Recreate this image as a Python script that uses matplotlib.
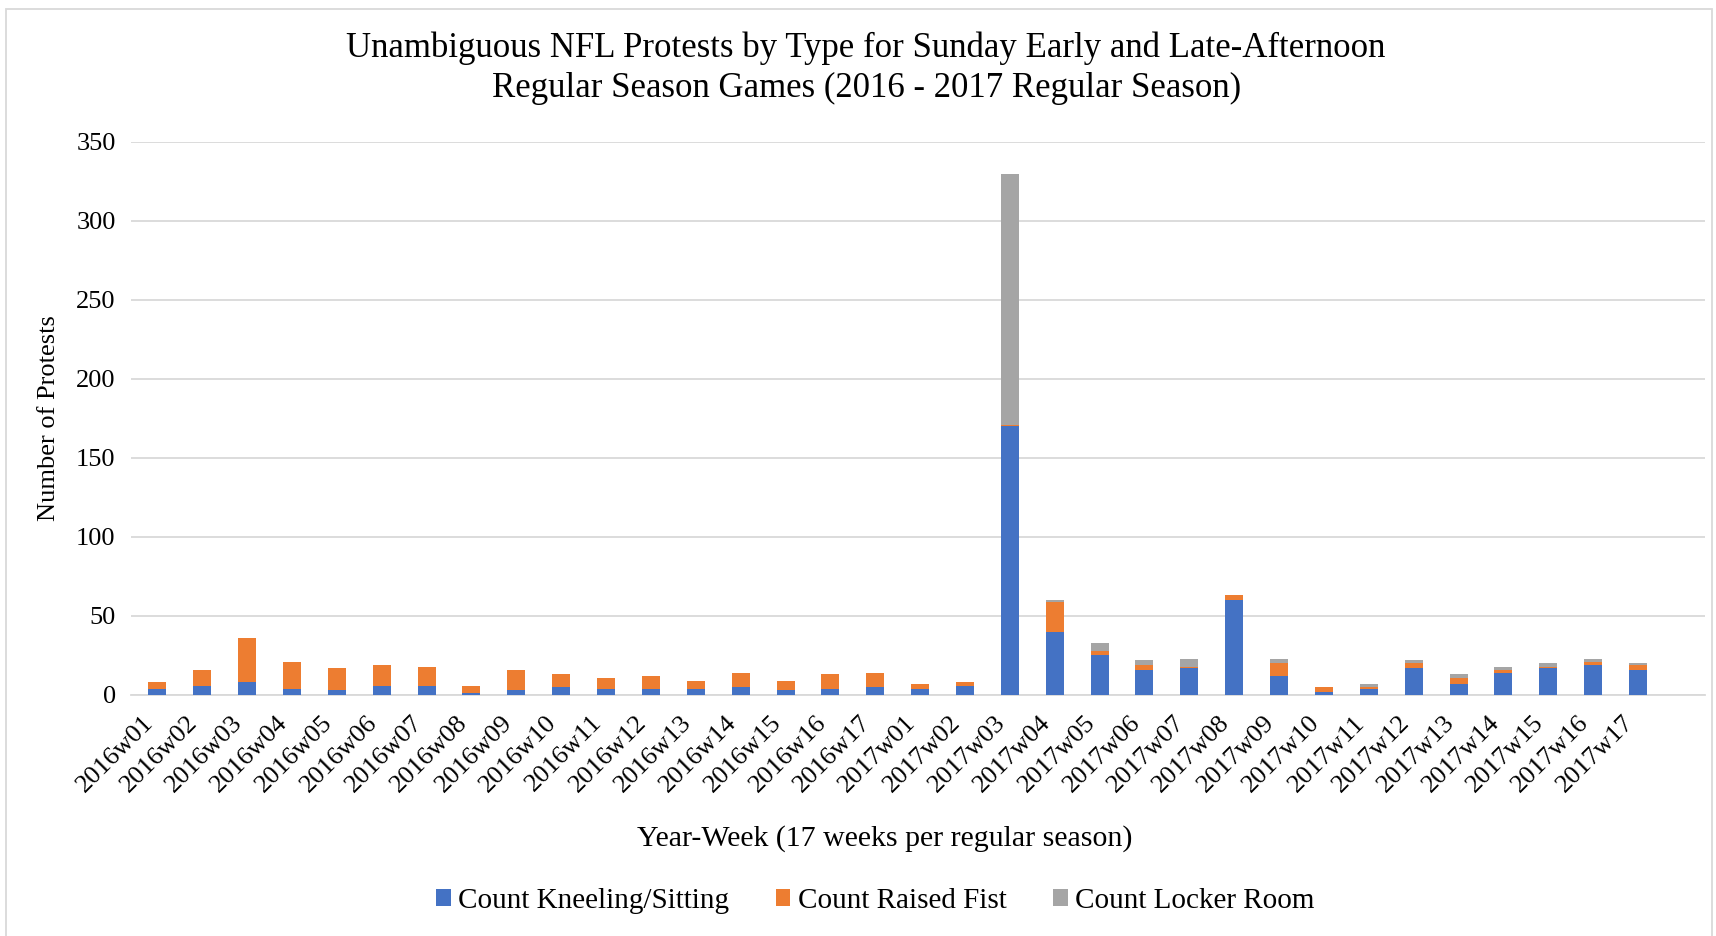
import matplotlib.pyplot as plt
import matplotlib.patches as mpatches
import numpy as np

# Data
weeks = [f"2016w{i:02d}" for i in range(1, 18)] + [f"2017w{i:02d}" for i in range(1, 18)]

kneeling = [4, 6, 8, 4, 3, 6, 6, 1, 3, 5, 4, 4, 4, 5, 3, 4, 5,
            4, 6, 170, 40, 25, 16, 17, 60, 12, 2, 4, 17, 7, 14, 17, 19, 16]
raised_fist = [4, 10, 28, 17, 14, 13, 12, 5, 13, 8, 7, 8, 5, 9, 6, 9, 9,
               3, 2, 1, 19, 3, 3, 1, 3, 8, 3, 1, 3, 4, 2, 1, 2, 3]
locker_room = [0, 0, 0, 0, 0, 0, 0, 0, 0, 0, 0, 0, 0, 0, 0, 0, 0,
               0, 0, 159, 1, 5, 3, 5, 0, 3, 0, 2, 2, 2, 2, 2, 2, 1]

plt.rcParams['font.family'] = ['Liberation Serif', 'DejaVu Serif']

blue = "#4472C4"
orange = "#ED7D31"
grey = "#A5A5A5"

x = np.arange(len(weeks))
kneeling = np.array(kneeling)
raised_fist = np.array(raised_fist)
locker_room = np.array(locker_room)
width = 0.4

fig = plt.figure(figsize=(17.16, 9.36), dpi=100)
ax = fig.add_axes([0.0763, 0.2575, 0.9172, 0.5908])

ax.bar(x, kneeling, width, color=blue, label="Count Kneeling/Sitting", zorder=3)
ax.bar(x, raised_fist, width, bottom=kneeling, color=orange, label="Count Raised Fist", zorder=3)
ax.bar(x, locker_room, width, bottom=kneeling + raised_fist, color=grey, label="Count Locker Room", zorder=3)

ax.set_xlim(-0.59, 34.49)
ax.set_ylim(0, 350)
ax.set_yticks(np.arange(0, 351, 50))
ax.grid(axis='y', color='#d9d9d9', linewidth=1.3, zorder=0)
ax.set_axisbelow(True)
for s in ['top', 'right', 'left']:
    ax.spines[s].set_visible(False)
ax.spines['bottom'].set_color('#d9d9d9')
ax.spines['bottom'].set_linewidth(1.3)
ax.tick_params(axis='both', length=0, labelsize=19)
ax.tick_params(axis='y', pad=11)
ax.tick_params(axis='x', pad=12)
ax.set_xticks(x)
ax.set_xticklabels(weeks, rotation=45, ha='right')

ax.set_xlabel("Year-Week (17 weeks per regular season)", fontsize=21.5, va='center')
ax.xaxis.set_label_coords(0.479, -0.26)
ax.set_ylabel("Number of Protests", fontsize=19, va='center')
ax.yaxis.set_label_coords(-0.052, 0.5)
fig.text(0.5047, 0.927, "Unambiguous NFL Protests by Type for Sunday Early and Late-Afternoon\n"
         "Regular Season Games (2016 - 2017 Regular Season)",
         ha='center', va='center', fontsize=25, linespacing=1.3)

ax.legend(loc='center', bbox_to_anchor=(0.473, -0.3725), ncol=3, frameon=False,
          fontsize=21, handlelength=0.5, handleheight=0.5, handletextpad=0.25,
          columnspacing=1.6)

fig.patches.append(mpatches.Rectangle((6 / 1716, -0.01), 1706 / 1716, 0.9995 - 9 / 936 + 0.01,
                                      transform=fig.transFigure, fill=False,
                                      edgecolor='#d9d9d9', linewidth=1.3))

fig.savefig("out.png", dpi=100)
